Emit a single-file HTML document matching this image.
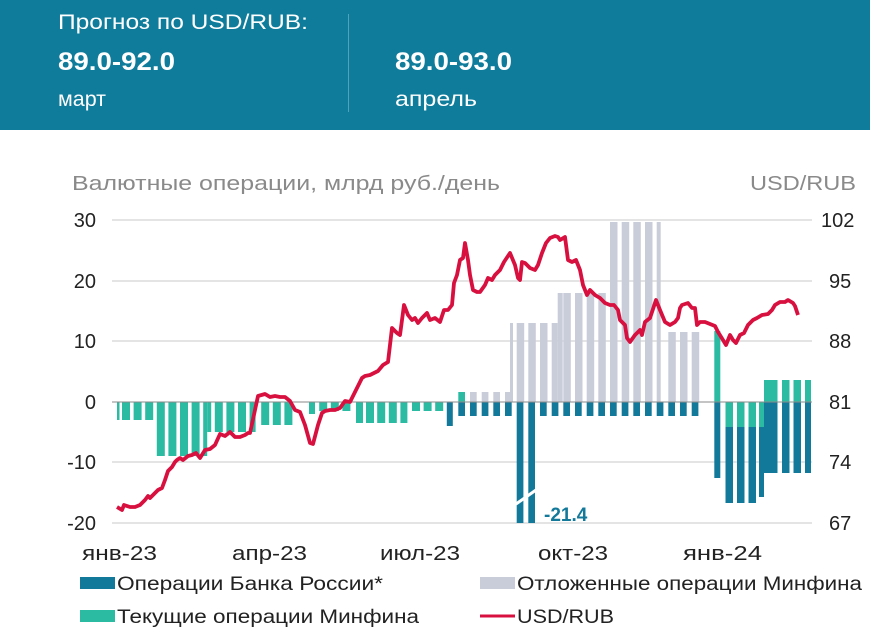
<!DOCTYPE html>
<html><head><meta charset="utf-8"><style>
body{margin:0;width:870px;height:642px;background:#fff;overflow:hidden}
svg{display:block}
text{font-family:"Liberation Sans",sans-serif}
</style></head><body>
<svg width="870" height="642" viewBox="0 0 870 642" xmlns="http://www.w3.org/2000/svg">
<rect x="0" y="0" width="870" height="130" fill="#0f7c9b"/>
<line x1="348.5" y1="14" x2="348.5" y2="112" stroke="#4fa3ba" stroke-width="1"/>
<text x="58" y="29" font-size="21" fill="#fff" textLength="250" lengthAdjust="spacingAndGlyphs">Прогноз по USD/RUB:</text>
<text x="58" y="70" font-size="25" font-weight="bold" fill="#fff" textLength="117" lengthAdjust="spacingAndGlyphs">89.0-92.0</text>
<text x="58" y="106" font-size="21" fill="#fff" textLength="48" lengthAdjust="spacingAndGlyphs">март</text>
<text x="395" y="70" font-size="25" font-weight="bold" fill="#fff" textLength="117" lengthAdjust="spacingAndGlyphs">89.0-93.0</text>
<text x="395" y="106" font-size="21" fill="#fff" textLength="82" lengthAdjust="spacingAndGlyphs">апрель</text>

<text x="72" y="190" font-size="20" fill="#8a8a8a" textLength="428" lengthAdjust="spacingAndGlyphs">Валютные операции, млрд руб./день</text>
<text x="750" y="190" font-size="20" fill="#8a8a8a" textLength="106" lengthAdjust="spacingAndGlyphs">USD/RUB</text>

<g stroke="#dcdcdc" stroke-width="1.5">
<line x1="112" y1="220" x2="812" y2="220"/>
<line x1="112" y1="281" x2="812" y2="281"/>
<line x1="112" y1="341" x2="812" y2="341"/>
<line x1="112" y1="462" x2="812" y2="462"/>
<line x1="112" y1="523" x2="812" y2="523"/>
</g>

<g font-size="20" fill="#222" text-anchor="end">
<text x="96" y="227">30</text><text x="96" y="288">20</text><text x="96" y="348">10</text>
<text x="96" y="409">0</text><text x="96" y="469">-10</text><text x="96" y="530">-20</text>
</g>
<g font-size="20" fill="#222">
<text x="821" y="227">102</text><text x="829" y="288">95</text><text x="829" y="348">88</text>
<text x="829" y="409">81</text><text x="829" y="469">74</text><text x="829" y="530">67</text>
</g>

<g fill="#2bbba3">
<rect x="117" y="402" width="2.5" height="18"/>
<rect x="122" y="402" width="8" height="18"/><rect x="133.6" y="402" width="8" height="18"/><rect x="145.2" y="402" width="8" height="18"/>
<rect x="156.8" y="402" width="8" height="54"/><rect x="168.4" y="402" width="8" height="54"/><rect x="180" y="402" width="8" height="54"/><rect x="191.6" y="402" width="8" height="54"/><rect x="203.2" y="402" width="4" height="54"/>
<rect x="207.2" y="402" width="4" height="30"/><rect x="214.8" y="402" width="8" height="30"/><rect x="226.4" y="402" width="8" height="30"/><rect x="238" y="402" width="8" height="30"/><rect x="249.6" y="402" width="6" height="30"/>
<rect x="261.2" y="402" width="8" height="23"/><rect x="272.8" y="402" width="8" height="23"/><rect x="284.4" y="402" width="8" height="23"/>
<rect x="309" y="402" width="6" height="12"/>
<rect x="319.2" y="402" width="8" height="9"/><rect x="330.8" y="402" width="8" height="9"/><rect x="342.4" y="402" width="8" height="9"/>
<rect x="356" y="402" width="7" height="21"/><rect x="366" y="402" width="8" height="21"/><rect x="377.2" y="402" width="8" height="21"/><rect x="388.8" y="402" width="8" height="21"/><rect x="400.4" y="402" width="7" height="21"/>
<rect x="412" y="402" width="8" height="9"/><rect x="423.6" y="402" width="8" height="9"/><rect x="435.2" y="402" width="8" height="9"/>
<rect x="458.3" y="392" width="6.7" height="10"/>
<rect x="714.3" y="331" width="6" height="71"/>
<rect x="725.5" y="402" width="7.5" height="25"/><rect x="737" y="402" width="7.5" height="25"/><rect x="748.5" y="402" width="7.5" height="25"/><rect x="759" y="402" width="5" height="25"/>
<rect x="764" y="380" width="6" height="22"/>
<rect x="770" y="380" width="7.5" height="22"/><rect x="782" y="380" width="7.5" height="22"/><rect x="793.5" y="380" width="7.5" height="22"/><rect x="805" y="380" width="6" height="22"/>
</g>
<g fill="#c9cdd9">
<rect x="470" y="392" width="6.7" height="10"/><rect x="481.7" y="392" width="6.7" height="10"/><rect x="493.3" y="392" width="6.7" height="10"/><rect x="505" y="392" width="5" height="10"/>
<rect x="510" y="323" width="3" height="79"/>
<rect x="516.7" y="323" width="7.5" height="79"/><rect x="528.3" y="323" width="7.5" height="79"/><rect x="540" y="323" width="7.5" height="79"/><rect x="551.7" y="323" width="6" height="79"/>
<rect x="557.7" y="293" width="5" height="109"/>
<rect x="563.3" y="293" width="7.5" height="109"/><rect x="575" y="293" width="7.5" height="109"/><rect x="586.7" y="293" width="7.5" height="109"/><rect x="598.3" y="293" width="7.5" height="109"/>
<rect x="610" y="222" width="7.5" height="180"/><rect x="621.7" y="222" width="7.5" height="180"/><rect x="633.3" y="222" width="7.5" height="180"/><rect x="645" y="222" width="7.5" height="180"/><rect x="656.7" y="222" width="4" height="180"/>
<rect x="668.3" y="332" width="7.5" height="70"/><rect x="680" y="332" width="7.5" height="70"/><rect x="691.7" y="332" width="7.5" height="70"/>
</g>
<g fill="#13799b">
<rect x="446.8" y="402" width="6" height="24"/>
<rect x="458.3" y="402" width="6.7" height="14"/><rect x="470" y="402" width="6.7" height="14"/><rect x="481.7" y="402" width="6.7" height="14"/><rect x="493.3" y="402" width="6.7" height="14"/><rect x="505" y="402" width="6.7" height="14"/>
<rect x="516.7" y="402" width="6.7" height="121"/><rect x="528.3" y="402" width="6.7" height="121"/>
<rect x="540" y="402" width="6.7" height="14"/><rect x="551.7" y="402" width="6.7" height="14"/><rect x="563.3" y="402" width="6.7" height="14"/><rect x="575" y="402" width="6.7" height="14"/><rect x="586.7" y="402" width="6.7" height="14"/><rect x="598.3" y="402" width="6.7" height="14"/><rect x="610" y="402" width="6.7" height="14"/><rect x="621.7" y="402" width="6.7" height="14"/><rect x="633.3" y="402" width="6.7" height="14"/><rect x="645" y="402" width="6.7" height="14"/><rect x="656.7" y="402" width="6.7" height="14"/><rect x="668.3" y="402" width="6.7" height="14"/><rect x="680" y="402" width="6.7" height="14"/><rect x="691.7" y="402" width="6.7" height="14"/>
<rect x="714.3" y="402" width="6" height="76"/>
<rect x="725.5" y="427" width="7.5" height="76"/><rect x="737" y="427" width="7.5" height="76"/><rect x="748.5" y="427" width="7.5" height="76"/><rect x="759" y="427" width="5" height="70"/>
<rect x="764" y="402" width="6" height="71"/>
<rect x="770" y="402" width="7.5" height="71"/><rect x="782" y="402" width="7.5" height="71"/><rect x="793.5" y="402" width="7.5" height="71"/><rect x="805" y="402" width="6" height="71"/>
</g>
<line x1="112" y1="402" x2="812" y2="402" stroke="#8a8a8a" stroke-width="1"/>
<line x1="516" y1="504" x2="536" y2="490" stroke="#fff" stroke-width="3"/>
<text x="544" y="521" font-size="19" font-weight="bold" fill="#13799b">-21.4</text>

<polyline fill="none" stroke="#d8103f" stroke-width="3.8" stroke-linejoin="round" points="117,507 122,510 124,505 130,507 135,507 140,505 145,500 148,496 150,498 158,490 162,488 165,480 168,471 172,467 175,462 177,460 180,458 183,460 188,456 192,455 196,453 200,458 205,450 210,449 215,445 220,434 225,436 230,432 235,437 240,437 245,435 248,433 250,433 255,410 258,396 265,394 270,397 275,396 280,397 285,397 290,401 295,410 300,412 305,425 310,443 313,444 318,425 322,413 325,411 330,410 335,410 340,408 345,401 350,402 357,388 362,378 365,376 370,375 378,371 383,365 388,362 392,328 397,333 400,335 404,305 408,315 412,320 415,318 418,323 422,318 427,313 430,320 435,318 440,322 444,310 448,310 452,305 454,283 457,275 460,260 463,258 465,243 468,260 470,275 473,290 477,292 480,292 485,285 488,278 492,280 495,275 500,270 504,262 510,253 515,265 518,278 520,280 522,262 525,263 530,268 535,270 538,265 542,253 546,243 550,238 555,236 558,237 560,240 565,237 568,260 572,262 576,260 580,270 583,285 587,295 590,290 595,295 600,298 605,303 610,305 614,305 618,310 620,320 625,325 627,338 630,342 635,335 640,330 642,335 645,322 650,318 652,312 656,300 660,310 665,322 670,325 675,322 678,318 680,308 682,305 688,303 692,308 695,308 697,325 700,322 705,322 715,326 718,332 723,340 726,345 730,335 733,340 736,343 740,335 744,333 748,325 753,320 757,318 762,315 768,314 772,310 775,305 780,302 785,302 788,300 793,303 795,306 798,315"/>

<g font-size="20" fill="#222">
<text x="82" y="560" textLength="75" lengthAdjust="spacingAndGlyphs">янв-23</text>
<text x="232" y="560" textLength="75" lengthAdjust="spacingAndGlyphs">апр-23</text>
<text x="380" y="560" textLength="80" lengthAdjust="spacingAndGlyphs">июл-23</text>
<text x="538" y="560" textLength="70" lengthAdjust="spacingAndGlyphs">окт-23</text>
<text x="683" y="560" textLength="79" lengthAdjust="spacingAndGlyphs">янв-24</text>
</g>
<g font-size="19" fill="#222">
<rect x="80" y="577" width="35" height="12" fill="#13799b"/>
<text x="117" y="590" textLength="266" lengthAdjust="spacingAndGlyphs">Операции Банка России*</text>
<rect x="480" y="577" width="35" height="12" fill="#c9cdd9"/>
<text x="517" y="590" textLength="345" lengthAdjust="spacingAndGlyphs">Отложенные операции Минфина</text>
<rect x="80" y="610" width="35" height="12" fill="#2bbba3"/>
<text x="117" y="623" textLength="302" lengthAdjust="spacingAndGlyphs">Текущие операции Минфина</text>
<line x1="480" y1="616" x2="515" y2="616" stroke="#d8103f" stroke-width="3"/>
<text x="517" y="623" textLength="97" lengthAdjust="spacingAndGlyphs">USD/RUB</text>
</g>
</svg>
</body></html>
